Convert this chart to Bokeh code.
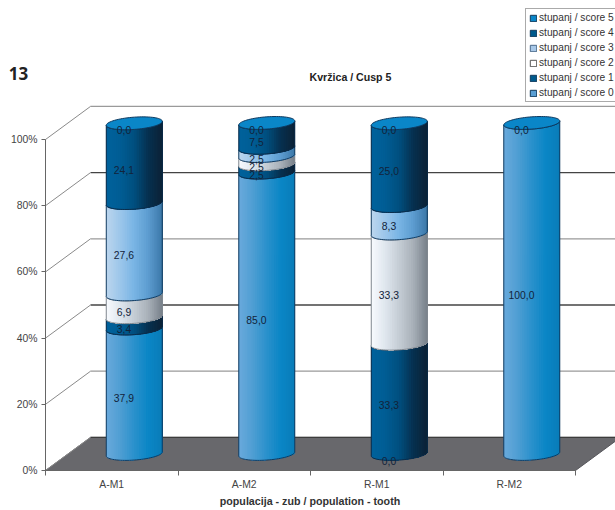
import math
from bokeh.plotting import figure
from bokeh.models import Legend, LegendItem, Label, FixedTicker, Range1d
from bokeh.core.properties import value
from bokeh.embed import file_html
from bokeh.resources import INLINE

# ---- data
categories = ["A-M1", "A-M2", "R-M1", "R-M2"]
score_0 = [37.9, 85.0, 0.0, 100.0]
score_1 = [3.4, 2.5, 33.3, None]
score_2 = [6.9, 2.5, 33.3, None]
score_3 = [27.6, 2.5, 8.3, None]
score_4 = [24.1, 7.5, 25.0, None]
score_5 = [0.0, 0.0, 0.0, 0.0]
series_names = ["stupanj / score 0", "stupanj / score 1", "stupanj / score 2",
                "stupanj / score 3", "stupanj / score 4", "stupanj / score 5"]
series_values = [score_0, score_1, score_2, score_3, score_4, score_5]
y_ticks = [0, 20, 40, 60, 80, 100]

# ---- styles
gradients = [
    ["#6aaadc", "#4f9ed3", "#2a91cc", "#0a86c6", "#0a7cb8"],
    ["#00629c", "#005d94", "#004f7f", "#06304f", "#0c2236"],
    ["#f8fbfe", "#dfe6ee", "#c4ccd4", "#a8b0b8", "#77808a"],
    ["#bcd6ee", "#9cc6ea", "#78b4e4", "#5c9cd0", "#3c78a8"],
    ["#00629c", "#005d94", "#004f7f", "#06304f", "#0c2236"],
    ["#0a86c8", "#0a86c8", "#0a86c8", "#0a86c8", "#0a86c8"],
]
outlines = ["#0f3a60", "#0c2c4a", "#808890", "#143c60", "#0c2c4a", "#0f3a60"]
key_colors = ["#5a9fd4", "#005a8c", "#ffffff", "#a8c8e8", "#005a8c", "#0a86c8"]
key_lines = ["#123a5c", "#123a5c", "#555555", "#4a6a8a", "#123a5c", "#123a5c"]
PX_X, PX_Y = 132.5, 3.31
DEPTH_X, DEPTH_Y = 0.34, 10.0
A, B, K = 0.2113, 1.85, 0.6
LABEL_DX, LABEL_DY = -0.078, -2.0
N = 36
nan = float("nan")


def hex2rgb(c):
    return [int(c[i:i + 2], 16) for i in (1, 3, 5)]


def shade(stops, f):
    q = f * (len(stops) - 1)
    i = min(int(q), len(stops) - 2)
    t = q - i
    a, b = hex2rgb(stops[i]), hex2rgb(stops[i + 1])
    return "#%02x%02x%02x" % tuple(round(a[j] + (b[j] - a[j]) * t) for j in range(3))


p = figure(width=615, height=510, output_backend="svg", toolbar_location=None,
           x_range=Range1d(-45 / PX_X, 570 / PX_X), y_range=Range1d(-40 / PX_Y, 470 / PX_Y),
           min_border_left=0, min_border_right=0, min_border_top=0, min_border_bottom=0)
p.outline_line_color = None
p.grid.visible = False
p.background_fill_color = "#ffffff"

n_cat = len(categories)
# floor
p.patch([0, DEPTH_X, n_cat + DEPTH_X, n_cat], [0, DEPTH_Y, DEPTH_Y, 0],
        fill_color="#68686c", line_color="#55555a", line_width=1)
# walls
wall_colors = ["#3c3c3c", "#9a9a9a", "#444444", "#9a9a9a", "#444444", "#9a9a9a"]
p.segment([DEPTH_X] * 6, [v + DEPTH_Y for v in y_ticks], [n_cat + DEPTH_X] * 6,
          [v + DEPTH_Y for v in y_ticks], line_color=wall_colors, line_width=1.3)
p.segment([0] * 6, y_ticks, [DEPTH_X] * 6, [v + DEPTH_Y for v in y_ticks],
          line_color="#8a8a8a", line_width=1)


def arc(cx, cy, steps=N):
    pts = []
    for i in range(steps + 1):
        t = math.pi + math.pi * i / steps
        pts.append((cx + A * math.cos(t), cy + B * math.sin(t) + K * math.cos(t)))
    return pts


label_x, label_y, label_t = [], [], []
for c in range(n_cat):
    cx = c + 0.5 + DEPTH_X / 2
    base = DEPTH_Y / 2
    cum = 0.0
    for s, vals in enumerate(series_values):
        v = vals[c]
        if v is None:
            continue
        y0, y1 = base + cum, base + cum + v
        label_x.append(cx + LABEL_DX)
        label_y.append((y0 + y1) / 2 + LABEL_DY)
        label_t.append(("%.1f" % v).replace(".", ","))
        cum += v
        if v == 0:
            continue
        lo, hi = arc(cx, y0), arc(cx, y1)
        xs, ys, colors = [], [], []
        for i in range(N):
            # each strip runs through to the right edge; later strips paint over it, so no seams
            low = lo[i:]
            high = hi[i:][::-1]
            xs.append([q[0] for q in low + high])
            ys.append([q[1] for q in low + high])
            colors.append(shade(gradients[s], (lo[i][0] + lo[i + 1][0] - 2 * cx + 2 * A) / (4 * A)))
        p.patches(xs, ys, fill_color=colors, line_color=None)
        ol = lo + hi[::-1] + lo[:1]
        p.line([q[0] for q in ol], [q[1] for q in ol], line_color=outlines[s], line_width=1)
    # top face
    top = base + cum
    front = arc(cx, top)
    back_pts = [(2 * cx - x, 2 * top - y) for x, y in front]
    ring = front + back_pts
    p.patch([q[0] for q in ring], [q[1] for q in ring], fill_color=gradients[5][0],
            line_color="#0f3a60", line_width=1)

p.text(label_x, label_y, text=label_t, text_font=value("Liberation Sans"), text_font_size="10.4px",
       text_color="#12233a", text_align="center", text_baseline="middle")

# axes
p.xaxis.fixed_location = 0
p.yaxis.fixed_location = 0
p.xaxis.ticker = FixedTicker(ticks=[i + 0.5 for i in range(n_cat)], minor_ticks=list(range(n_cat + 1)))
p.xaxis.major_label_overrides = {i + 0.5: categories[i] for i in range(n_cat)}
p.xaxis.major_tick_line_color = None
p.xaxis.major_tick_out = 0
p.xaxis.major_tick_in = 0
p.xaxis.minor_tick_in = 0
p.xaxis.minor_tick_out = 5
p.xaxis.minor_tick_line_color = "#666666"
p.xaxis.bounds = (0, n_cat)
p.xaxis.major_label_standoff = 3
p.yaxis.ticker = FixedTicker(ticks=y_ticks)
p.yaxis.major_label_overrides = {v: "%d%%" % v for v in y_ticks}
p.yaxis.bounds = (0, 100)
p.yaxis.minor_tick_line_color = None
p.yaxis.major_tick_in = 0
p.yaxis.major_tick_out = 4
p.yaxis.major_tick_line_color = "#666666"
p.yaxis.major_label_standoff = 4
for ax in (p.xaxis[0], p.yaxis[0]):
    ax.axis_line_color = "#666666"
    ax.major_label_text_font = "Liberation Sans"
    ax.major_label_text_font_size = "10.4px"
    ax.major_label_text_color = "#444444"

# texts
p.add_layout(Label(x=(350 - 45) / PX_X, y=(470 - 76) / PX_Y, text="Kvržica / Cusp 5",
                   text_font="Liberation Sans", text_font_style="bold", text_font_size="10.6px",
                   text_color="#222222", text_align="center", text_baseline="middle"))
p.add_layout(Label(x=(18 - 45) / PX_X, y=(470 - 73) / PX_Y, text="13",
                   text_font="Open Sans", text_font_style="bold", text_font_size="17px",
                   text_color="#222222", text_align="center", text_baseline="middle"))
p.add_layout(Label(x=(309.5 - 45) / PX_X, y=(470 - 500) / PX_Y, text="populacija - zub / population - tooth",
                   text_font="Liberation Sans", text_font_style="bold", text_font_size="10.7px",
                   text_color="#333333", text_align="center", text_baseline="middle"))

# legend
items = []
for s in range(5, -1, -1):
    r = p.quad(left=[nan], right=[nan], top=[nan], bottom=[nan], fill_color=key_colors[s], line_color=key_lines[s])
    items.append(LegendItem(label=series_names[s], renderers=[r]))
legend = Legend(items=items, location=(525, 408), orientation="vertical",
                glyph_width=8, glyph_height=8, label_standoff=2, spacing=4, padding=3, margin=0,
                label_height=10, label_text_font="Liberation Sans", label_text_font_size="10.2px",
                label_text_color="#333333", border_line_color="#555555", background_fill_color="#ffffff",
                background_fill_alpha=1)
p.add_layout(legend, "center")

open("out.html", "w").write(file_html(p, INLINE))
